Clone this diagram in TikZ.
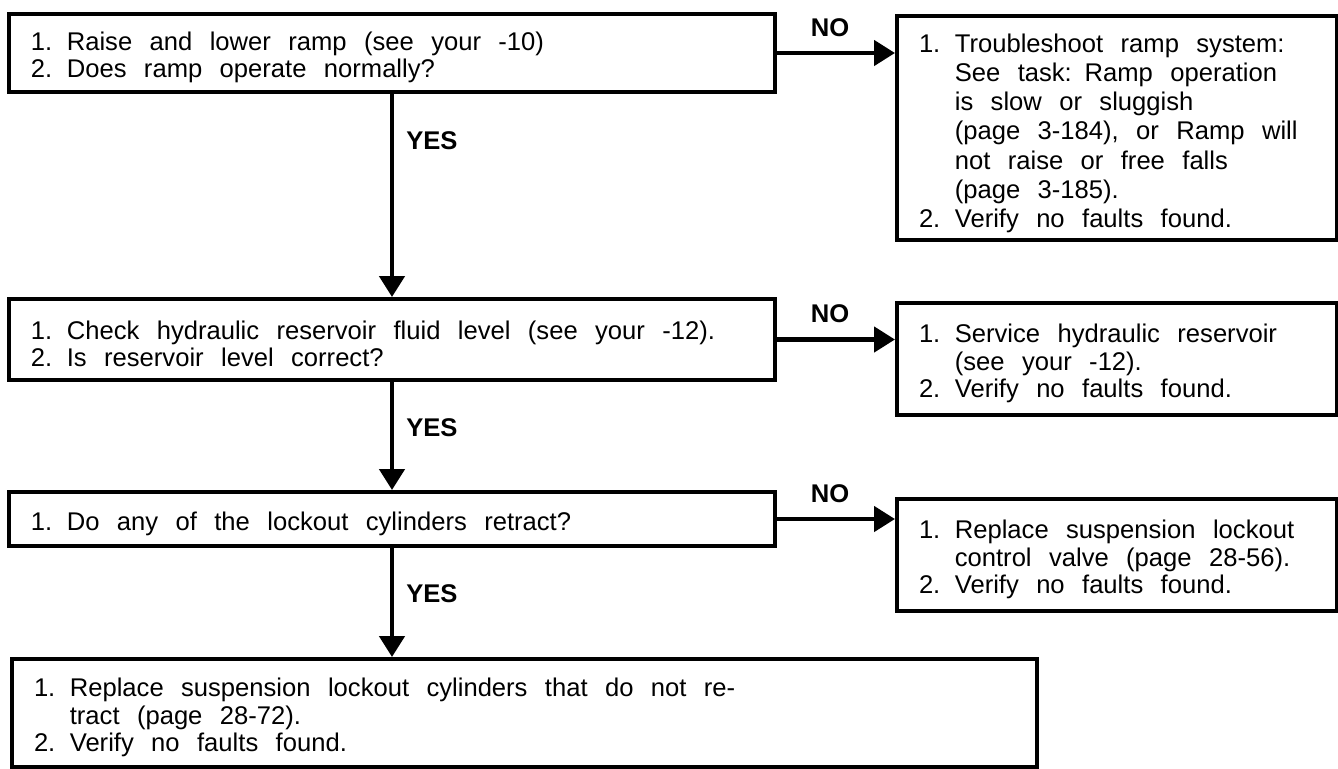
\documentclass[tikz,border=0pt]{standalone}
\usepackage{fontspec}
\setmainfont{Liberation Sans}
\usetikzlibrary{arrows.meta, positioning}
\tikzstyle{arrow} = [-{Triangle[length=10.5pt, width=12.5pt]}, line width=2.3pt, color=black]

\newcommand{\stepfont}{\fontsize{12.8pt}{13.75pt}\selectfont}
\newcommand{\stepfontwide}{\fontsize{12.8pt}{14.6pt}\selectfont}
\newcommand{\stepitem}[2]{\par\spaceskip=0.68em plus 0.1em minus 0.05em\relax
    \hangindent=1.4em\hangafter=1\noindent\makebox[1.4em][l]{#1}#2}

\begin{document}
\begin{tikzpicture}[
    x=0.5pt, y=-0.5pt,
    stepbox/.style={rectangle, draw=black, line width=2pt, anchor=north west,
                    inner xsep=11pt, inner ysep=0pt, align=left, font=\stepfont},
    answer/.style={font=\stepfont\bfseries, inner sep=0pt}
]
    \useasboundingbox (0,0) rectangle (1338,768);

    % Row 1: ramp check
    \node[stepbox, minimum width=383pt, minimum height=39pt, text width=361pt] (ramp) at (7,12)
        {\stepitem{1.}{Raise and lower ramp (see your -10)}
         \stepitem{2.}{Does ramp operate normally?}};
    \node[stepbox, minimum width=220pt, minimum height=112pt, text width=198pt,
          font=\stepfontwide] (rampfix) at (895,14)
        {\stepitem{1.}{Troubleshoot ramp system:\newline See task: Ramp operation\newline is slow or sluggish\newline (page 3-184), or Ramp will\newline not raise or free falls\newline (page 3-185).}
         \stepitem{2.}{Verify no faults found.}};

    % Row 2: reservoir check
    \node[stepbox, minimum width=383pt, minimum height=40.5pt, text width=361pt] (level) at (7,297)
        {\stepitem{1.}{Check hydraulic reservoir fluid level (see your -12).}
         \stepitem{2.}{Is reservoir level correct?}};
    \node[stepbox, minimum width=220pt, minimum height=56pt, text width=198pt] (levelfix) at (895,301)
        {\stepitem{1.}{Service hydraulic reservoir\newline (see your -12).}
         \stepitem{2.}{Verify no faults found.}};

    % Row 3: lockout cylinders
    \node[stepbox, minimum width=383pt, minimum height=27pt, text width=361pt] (lockout) at (7,490)
        {\stepitem{1.}{Do any of the lockout cylinders retract?}};
    \node[stepbox, minimum width=220pt, minimum height=56pt, text width=198pt] (valvefix) at (895,497)
        {\stepitem{1.}{Replace suspension lockout\newline control valve (page 28-56).}
         \stepitem{2.}{Verify no faults found.}};

    % Row 4: cylinder replacement
    \node[stepbox, minimum width=512.5pt, minimum height=54pt, text width=490.5pt] (cylfix) at (10,657)
        {\stepitem{1.}{Replace suspension lockout cylinders that do not re-\newline tract (page 28-72).}
         \stepitem{2.}{Verify no faults found.}};

    % Arrows
    \draw[arrow] (ramp.east) -- (ramp.east -| rampfix.west)
        node[answer, midway, above=7pt, xshift=-3pt] {NO};
    \draw[arrow] (level.east) -- (level.east -| levelfix.west)
        node[answer, midway, above=7pt, xshift=-3pt] {NO};
    \draw[arrow] (lockout.east) -- (lockout.east -| valvefix.west)
        node[answer, midway, above=7pt, xshift=-3pt] {NO};
    \draw[arrow] (ramp.south) -- (level.north)
        node[answer, pos=0.23, right=6pt] {YES};
    \draw[arrow] (level.south) -- (lockout.north)
        node[answer, pos=0.42, right=6pt] {YES};
    \draw[arrow] (lockout.south) -- (lockout.south |- cylfix.north)
        node[answer, pos=0.42, right=6pt] {YES};

\end{tikzpicture}
\end{document}
